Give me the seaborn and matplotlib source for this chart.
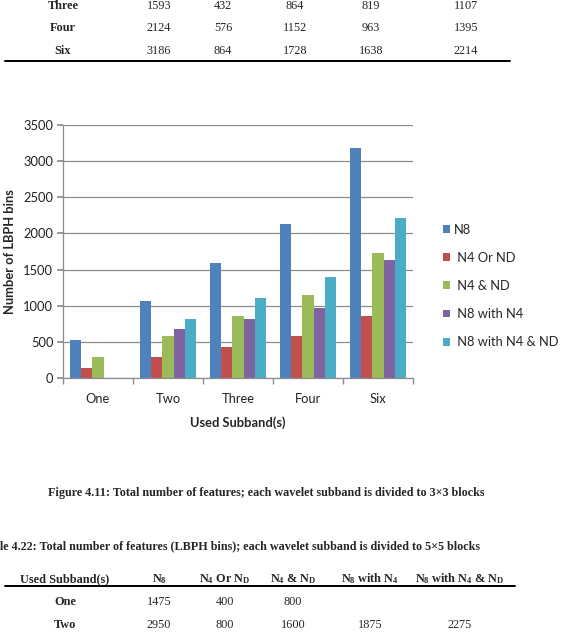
import numpy as np
import pandas as pd
import matplotlib
matplotlib.use("Agg")
import matplotlib.pyplot as plt
import seaborn as sns

# ---- data (3x3 blocks) ----
subbands = ["One", "Two", "Three", "Four", "Six"]
series_names = ["N8", "N4 Or ND", "N4 & ND", "N8 with N4", "N8 with N4 & ND"]
n8 = [531, 1062, 1593, 2124, 3186]
n4_or_nd = [144, 288, 432, 576, 864]
n4_and_nd = [288, 576, 864, 1152, 1728]
n8_with_n4 = [np.nan, 675, 819, 963, 1638]
n8_with_n4_nd = [np.nan, 819, 1107, 1395, 2214]

# ---- data (5x5 blocks, table 4.22, visible rows) ----
t22_rows = ["One", "Two"]
t22_n8 = ["1475", "2950"]
t22_n4_or_nd = ["400", "800"]
t22_n4_and_nd = ["800", "1600"]
t22_n8_with_n4 = ["", "1875"]
t22_n8_with_n4_nd = ["", "2275"]

colors = ["#4F81BD", "#C0504D", "#9BBB59", "#8064A2", "#4BACC6"]

sns.set_theme(style="white")
plt.rcParams["mathtext.fontset"] = "custom"
plt.rcParams["mathtext.rm"] = "Liberation Serif"
plt.rcParams["mathtext.bf"] = "Liberation Serif:bold"

W, H = 573, 642
fig = plt.figure(figsize=(W / 100, H / 100), dpi=100)

def fx(px):
    return px / W

def fy(py):
    return 1 - py / H

serif = "Liberation Serif"
chart_font = "Lato"
tsize = 8.8
csize = 9.3

# ---- top table (end of previous table) ----
all_vals = [n8, n4_or_nd, n4_and_nd, n8_with_n4, n8_with_n4_nd]
col_x = [159, 223, 295, 371, 466]
row_y = [6, 28, 51]
for r, name in enumerate(subbands[2:]):
    fig.text(fx(63), fy(row_y[r]), name, ha="center", va="center",
             family=serif, fontweight="bold", fontsize=tsize)
    for c, vals in enumerate(all_vals):
        fig.text(fx(col_x[c]), fy(row_y[r]), str(int(vals[r + 2])), ha="center", va="center",
                 family=serif, fontsize=tsize)
fig.add_artist(plt.Line2D([fx(5), fx(510)], [fy(61), fy(61)], color="black", lw=1.4))

# ---- chart ----
df = pd.DataFrame({
    "Subband": np.tile(subbands, len(series_names)),
    "Series": np.repeat(series_names, len(subbands)),
    "Bins": np.concatenate(all_vals),
})

ax = fig.add_axes([fx(63), fy(378), fx(413) - fx(63), fy(125) - fy(378)])
sns.barplot(data=df, x="Subband", y="Bins", hue="Series", palette=colors,
            width=0.79, ax=ax, saturation=1, linewidth=0, legend=True)
ax.set_ylim(0, 3500)
ax.set_yticks(range(0, 3501, 500))
ax.set_xlim(-0.5, 4.5)
ax.yaxis.grid(True, color="#8c8c8c", lw=0.9)
ax.set_axisbelow(True)
for s in ["top", "right"]:
    ax.spines[s].set_visible(False)
for s in ["left", "bottom"]:
    ax.spines[s].set_color("#8c8c8c")
    ax.spines[s].set_linewidth(0.9)
ax.set_xticks(np.arange(-0.5, 5, 1), minor=True)
ax.tick_params(axis="x", which="minor", length=4, color="#8c8c8c", direction="out", bottom=True)
ax.tick_params(axis="x", which="major", length=0, pad=11)
ax.tick_params(axis="y", length=4, color="#8c8c8c", direction="out", left=True, pad=3)
for lab in ax.get_xticklabels() + ax.get_yticklabels():
    lab.set_family(chart_font)
    lab.set_fontsize(csize)
    lab.set_color("#222222")
ax.set_xlabel("Used Subband(s)", family=chart_font, fontweight="bold", fontsize=csize, labelpad=8)
ax.set_ylabel("Number of LBPH bins", family=chart_font, fontweight="bold", fontsize=csize, labelpad=5)

handles, labels = ax.get_legend_handles_labels()
# Excel put a leading space on every entry but the first
labels = [labels[0]] + [" " + l for l in labels[1:]]
ax.legend(handles, labels, loc="upper left", bbox_to_anchor=(fx(431), fy(212)),
          bbox_transform=fig.transFigure, frameon=False, handlelength=0.55, handleheight=0.55,
          handletextpad=0.3, labelspacing=1.25, prop={"family": chart_font, "size": csize})

# ---- captions ----
fig.text(fx(266), fy(493), "Figure 4.11: Total number of features; each wavelet subband is divided to 3\u00d73 blocks",
         ha="center", va="center", family=serif, fontweight="bold", fontsize=8.7)
fig.text(fx(480), fy(546), "Table 4.22: Total number of features (LBPH bins); each wavelet subband is divided to 5\u00d75 blocks",
         ha="right", va="center", family=serif, fontweight="bold", fontsize=8.7)

# ---- table 4.22 ----
headers = ["Used Subband(s)", r"$\mathbf{N_8}$", r"$\mathbf{N_4}$ Or $\mathbf{N_D}$",
           r"$\mathbf{N_4}$ & $\mathbf{N_D}$", r"$\mathbf{N_8}$ with $\mathbf{N_4}$",
           r"$\mathbf{N_8}$ with $\mathbf{N_4}$ & $\mathbf{N_D}$"]
head_x = [65, 159, 225, 293, 370, 460]
for hx, h in zip(head_x, headers):
    fig.text(fx(hx), fy(579), h, ha="center", va="center", family=serif, fontweight="bold", fontsize=tsize)
fig.add_artist(plt.Line2D([fx(5), fx(515)], [fy(586), fy(586)], color="black", lw=1.4))

t22_cols = [t22_n8, t22_n4_or_nd, t22_n4_and_nd, t22_n8_with_n4, t22_n8_with_n4_nd]
t22_y = [602, 625]
for r, name in enumerate(t22_rows):
    fig.text(fx(65), fy(t22_y[r]), name, ha="center", va="center",
             family=serif, fontweight="bold", fontsize=tsize)
    for c, vals in enumerate(t22_cols):
        fig.text(fx(head_x[c + 1]), fy(t22_y[r]), vals[r], ha="center", va="center",
                 family=serif, fontsize=tsize)

fig.savefig("out.png", dpi=100)
